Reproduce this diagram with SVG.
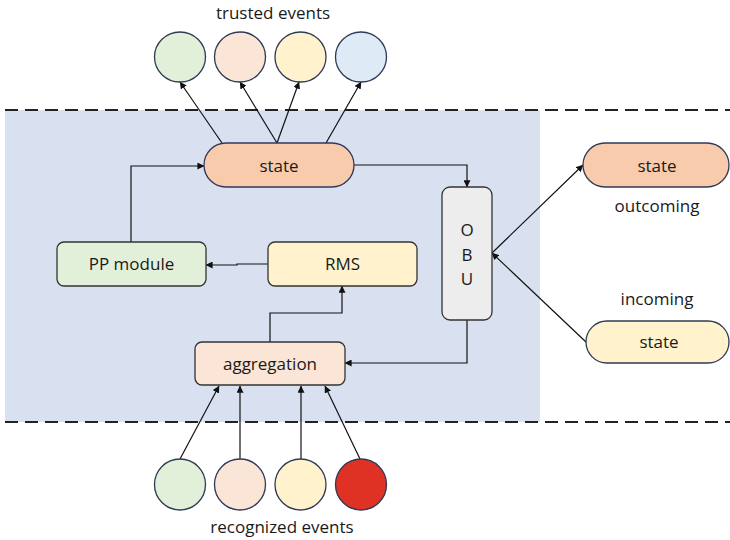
<svg xmlns="http://www.w3.org/2000/svg" width="730" height="540" viewBox="0 0 730 540">
  <style>
    text { font-family: "Open Sans", "Noto Sans", "Liberation Sans", sans-serif; font-size: 17px; fill: #1a1a1a; text-anchor: middle; }
    .ev { stroke: #2f3a57; stroke-width: 1.3; }
    .box { stroke: #333; stroke-width: 1.3; }
    .pill { stroke: #2f3a57; stroke-width: 1.3; }
    .conn { fill: none; stroke: #111; stroke-width: 1.2; marker-end: url(#arrow); }
    .dash { stroke: #222; stroke-width: 2; stroke-dasharray: 13 7; }
  </style>
  <defs>
    <marker id="arrow" viewBox="0 0 10 10" refX="9.5" refY="5" markerWidth="7" markerHeight="7" markerUnits="userSpaceOnUse" orient="auto">
      <path d="M0,0 L10,5 L0,10 z" fill="#111"/>
    </marker>
  </defs>

  <!-- processing zone -->
  <rect x="5" y="110" width="535" height="312" fill="#d9e0f0"/>
  <line class="dash" x1="5" y1="110" x2="730" y2="110"/>
  <line class="dash" x1="5" y1="422" x2="730" y2="422"/>

  <text x="273" y="19">trusted events</text>
  <text x="282" y="533">recognized events</text>
  <text x="657" y="212">outcoming</text>
  <text x="657" y="305">incoming</text>

  <!-- connectors -->
  <g id="connectors">
    <path class="conn" d="M222,143 L180,82"/>
    <path class="conn" d="M277,143 L240,82"/>
    <path class="conn" d="M277,143 L299,82"/>
    <path class="conn" d="M326,143 L361,82"/>
    <path class="conn" d="M354,165 H467 V187"/>
    <path class="conn" d="M131,242 V166 H204"/>
    <path class="conn" d="M268,264 H237 V265 H206"/>
    <path class="conn" d="M270,342 V313 H342 V286"/>
    <path class="conn" d="M467,320 V363 H345"/>
    <path class="conn" d="M492,253 L583,165"/>
    <path class="conn" d="M586,342 L492,253"/>
    <path class="conn" d="M180,459 L219,386"/>
    <path class="conn" d="M240,459 V386"/>
    <path class="conn" d="M301,459 V386"/>
    <path class="conn" d="M360,459 L325,386"/>
  </g>

  <!-- trusted event circles -->
  <g id="trusted1"><ellipse class="ev" cx="180" cy="57" rx="25.5" ry="25" fill="#e2f0d9"/></g>
  <g id="trusted2"><ellipse class="ev" cx="240" cy="57" rx="25.5" ry="25" fill="#fbe5d6"/></g>
  <g id="trusted3"><ellipse class="ev" cx="300.5" cy="57" rx="25.5" ry="25" fill="#fff2cc"/></g>
  <g id="trusted4"><ellipse class="ev" cx="361" cy="57" rx="25.5" ry="25" fill="#deebf7"/></g>

  <!-- recognized event circles -->
  <g id="recognized1"><ellipse class="ev" cx="180" cy="484.5" rx="25.5" ry="25.5" fill="#e2f0d9"/></g>
  <g id="recognized2"><ellipse class="ev" cx="240" cy="484.5" rx="25.5" ry="25.5" fill="#fbe5d6"/></g>
  <g id="recognized3"><ellipse class="ev" cx="300.5" cy="484.5" rx="25.5" ry="25.5" fill="#fff2cc"/></g>
  <g id="recognized4"><ellipse class="ev" cx="361" cy="484.5" rx="25.5" ry="25.5" fill="#e03125"/></g>

  <g id="state">
    <rect class="pill" x="204" y="143" width="150" height="44" rx="22" fill="#f8cbad"/>
    <text x="279" y="172">state</text>
  </g>

  <g id="pp-module">
    <rect class="box" x="57" y="242" width="149" height="44" rx="7" fill="#e2f0d9"/>
    <text x="131.5" y="270">PP module</text>
  </g>

  <g id="rms">
    <rect class="box" x="268" y="242" width="149" height="44" rx="7" fill="#fff2cc"/>
    <text x="342.5" y="270">RMS</text>
  </g>

  <g id="aggregation">
    <rect class="box" x="195" y="342" width="150" height="43" rx="7" fill="#fbe5d6"/>
    <text x="270" y="370">aggregation</text>
  </g>

  <g id="obu">
    <rect class="box" x="442" y="187" width="50" height="133" rx="8" fill="#ededed"/>
    <text x="467" y="236">O</text>
    <text x="467" y="261">B</text>
    <text x="467" y="285">U</text>
  </g>

  <g id="state-out">
    <rect class="pill" x="583" y="143" width="146" height="44" rx="22" fill="#f8cbad"/>
    <text x="657" y="172">state</text>
  </g>

  <g id="state-in">
    <rect class="pill" x="586" y="321" width="143" height="42" rx="21" fill="#fff2cc"/>
    <text x="659" y="348">state</text>
  </g>
</svg>
